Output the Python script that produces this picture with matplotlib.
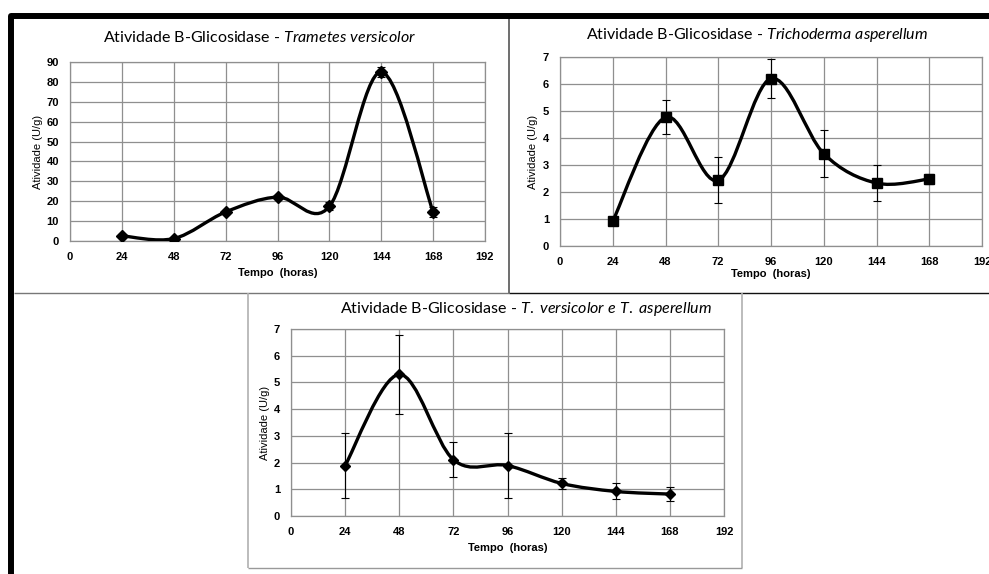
import numpy as np
import matplotlib
matplotlib.use('Agg')
import matplotlib.pyplot as plt
from matplotlib.path import Path
from matplotlib.patches import PathPatch
from matplotlib.lines import Line2D

plt.rcParams['font.family'] = ['Liberation Sans', 'DejaVu Sans']
plt.rcParams['mathtext.fontset'] = 'custom'
plt.rcParams['mathtext.rm'] = 'Lato'
plt.rcParams['mathtext.it'] = 'Lato:italic'

# Data
tempo = [24, 48, 72, 96, 120, 144, 168]
x_ticks = [0, 24, 48, 72, 96, 120, 144, 168, 192]

tv_ativ = [2.6, 1.2, 14.6, 22.1, 17.4, 85.0, 14.6]
tv_erro = [0.8, 0.6, 1.0, 1.0, 2.0, 2.5, 2.7]
tv_yticks = [0, 10, 20, 30, 40, 50, 60, 70, 80, 90]

ta_ativ = [0.92, 4.77, 2.43, 6.20, 3.42, 2.33, 2.48]
ta_erro = [0.0, 0.64, 0.85, 0.72, 0.88, 0.68, 0.2]
ta_yticks = [0, 1, 2, 3, 4, 5, 6, 7]

mix_ativ = [1.89, 5.30, 2.11, 1.89, 1.22, 0.92, 0.82]
mix_erro = [1.22, 1.49, 0.66, 1.21, 0.22, 0.30, 0.25]
mix_yticks = [0, 1, 2, 3, 4, 5, 6, 7]

W, H = 989, 574


def rect(l, t, r, b):
    return [l / W, 1 - b / H, (r - l) / W, (b - t) / H]


def fx(x):
    return x / W


def fy(y):
    return 1 - y / H


def smooth_path(x, y):
    # smoothed line like a spreadsheet chart (Catmull-Rom as Bezier)
    pts = np.column_stack([x, y]).astype(float)
    ext = np.vstack([pts[0], pts, pts[-1]])
    verts = [pts[0]]
    codes = [Path.MOVETO]
    for i in range(len(pts) - 1):
        p0, p1, p2, p3 = ext[i], ext[i + 1], ext[i + 2], ext[i + 3]
        verts += [p1 + (p2 - p0) / 6, p2 - (p3 - p1) / 6, p2]
        codes += [Path.CURVE4] * 3
    return Path(verts, codes)


def draw_panel(box, y, err, yticks, marker, msize, title, tpos, ylab_x, xlab_y):
    ax = fig.add_axes(rect(*box))
    ax.add_patch(PathPatch(smooth_path(tempo, y), fill=False, lw=2.4,
                           edgecolor='black', zorder=3))
    ax.errorbar(tempo, y, yerr=err, fmt='none', ecolor='black',
                elinewidth=0.8, capsize=3, capthick=0.8, zorder=4)
    ax.plot(tempo, y, ls='none', marker=marker, ms=msize, color='black', zorder=5)
    ax.set_xlim(0, 192)
    ax.set_ylim(yticks[0], yticks[-1])
    ax.set_xticks(x_ticks)
    ax.set_yticks(yticks)
    ax.grid(True, color='#8f8f8f', lw=0.9)
    ax.set_axisbelow(True)
    for s in ax.spines.values():
        s.set_color('#8f8f8f')
        s.set_linewidth(0.9)
    ax.tick_params(length=0, labelsize=8, pad=8)
    for lab in ax.get_xticklabels() + ax.get_yticklabels():
        lab.set_fontweight('bold')
    fig.text(fx(tpos[0]), fy(tpos[1]), title, fontfamily='Lato', fontsize=11.5,
             ha='center', va='center')
    l, t, r, b = box
    fig.text(fx(ylab_x), fy((t + b) / 2), 'Atividade (U/g)', rotation=90,
             fontsize=8, ha='center', va='center')
    fig.text(fx((l + r) / 2), fy(xlab_y), 'Tempo  (horas)', fontsize=8,
             fontweight='bold', ha='center', va='center')
    return ax


fig = plt.figure(figsize=(W / 100, H / 100), dpi=100)

draw_panel((70, 62, 485, 241), tv_ativ, tv_erro, tv_yticks, 'D', 6,
           r'Atividade B-Glicosidase - $\mathit{Trametes\ versicolor}$',
           (260, 37), 38, 273)
draw_panel((560, 57, 982, 246), ta_ativ, ta_erro, ta_yticks, 's', 7.5,
           r'Atividade B-Glicosidase - $\mathit{Trichoderma\ asperellum}$',
           (757, 35), 533, 274)
draw_panel((291, 329, 724, 516), mix_ativ, mix_erro, mix_yticks, 'D', 5,
           r'Atividade B-Glicosidase - $\mathit{T.\ versicolor\ e\ T.\ asperellum}$',
           (526, 309), 265, 548)


def seg(x0, y0, x1, y1, color, lw):
    fig.add_artist(Line2D([fx(x0), fx(x1)], [fy(y0), fy(y1)],
                          transform=fig.transFigure, color=color, lw=lw,
                          solid_capstyle='butt'))


# panel borders
seg(509, 18, 509, 293, '#555555', 1.2)
seg(14, 293, 509, 293, '#777777', 1.0)
seg(509, 293, 989, 293, '#111111', 1.0)
seg(248, 293, 248, 568, '#b0b0b0', 1.2)
seg(742, 293, 742, 568, '#b0b0b0', 1.2)
seg(248, 568, 742, 568, '#999999', 1.0)

# thick black frame
fig.add_artist(Line2D([fx(11), fx(11), fx(989)], [fy(574), fy(15.5), fy(15.5)],
                      transform=fig.transFigure, color='black', lw=4.3,
                      solid_joinstyle='round'))

fig.savefig('out.png', dpi=100)
